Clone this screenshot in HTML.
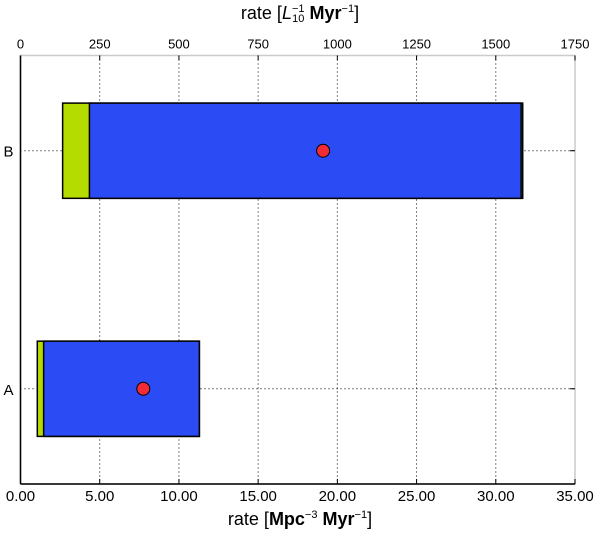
<!DOCTYPE html>
<html><head><meta charset="utf-8"><style>
html,body{margin:0;padding:0;background:#fff;}
svg{display:block;font-family:"Liberation Sans",sans-serif;}
</style></head><body>
<svg id="chart" width="600" height="534"></svg>
<script>
const categories = ["A","B"];
const greenStart = [1.06, 2.66];
const blueStart = [1.46, 4.35];
const blueEnd = [11.29, 31.6];
const greenEnd = [11.29, 31.7];
const pointValue = [7.75, 19.1];
const bottomTicks = [0,5,10,15,20,25,30,35];
const topTicks = [0,250,500,750,1000,1250,1500,1750];

const L=20.5,R=575,T=55.5,B=484;
const xMax=35, yMin=-0.4, yMax=1.4;
const x=v=>L+(v/xMax)*(R-L);
const xTop=v=>L+(v/1750)*(R-L);
const y=v=>T+(yMax-v)/(yMax-yMin)*(B-T);
const svg=document.getElementById('chart');
const NS='http://www.w3.org/2000/svg';
function mk(tag,attrs,parent){const e=document.createElementNS(NS,tag);for(const k in attrs)e.setAttribute(k,attrs[k]);(parent||svg).appendChild(e);return e;}

// frame background
let fr=mk('rect',{x:L,y:T,width:R-L,height:B-T,fill:'#fff',stroke:'#c8cccc','stroke-width':1.5});



// gridlines
bottomTicks.forEach(t=>{
  if(t===0||t===35)return;
  let g=mk('line',{x1:x(t),x2:x(t),y1:T,y2:B,stroke:'#000','stroke-width':1,'stroke-dasharray':'1,3'});
  
  
});
categories.forEach((c,i)=>{
  let g=mk('line',{x1:L,x2:R,y1:y(i),y2:y(i),stroke:'#000','stroke-width':1,'stroke-dasharray':'1,3'});
  
  
});

// bars
categories.forEach((c,i)=>{
  const y0=y(i+0.2), h=y(i-0.2)-y(i+0.2);
  let g=mk('rect',{x:x(greenStart[i]),y:y0,width:x(greenEnd[i])-x(greenStart[i]),height:h,fill:'#b5dc00',stroke:'#000','stroke-width':1.5});
  
  
  let b=mk('rect',{x:x(blueStart[i]),y:y0,width:x(blueEnd[i])-x(blueStart[i]),height:h,fill:'#2b4cf5',stroke:'#000','stroke-width':1.5});
  
  
  let p=mk('circle',{cx:x(pointValue[i]),cy:y(i),r:6.5,fill:'#f22b36',stroke:'#000','stroke-width':1});
  
  
});

// axes spines
let la=mk('line',{x1:L,x2:L,y1:T,y2:B,stroke:'#000','stroke-width':1.5});


let ba=mk('line',{x1:L,x2:R,y1:B,y2:B,stroke:'#000','stroke-width':1.5});



// bottom ticks
bottomTicks.forEach(t=>{
  let tk=mk('line',{x1:x(t),x2:x(t),y1:B,y2:B-5,stroke:'#000'});
  
  
  let tx=mk('text',{x:x(t),y:B+17,'text-anchor':'middle','font-size':15,fill:'#000'});
  tx.textContent=t.toFixed(2);
  
  
});
topTicks.forEach(t=>{
  let tk=mk('line',{x1:xTop(t),x2:xTop(t),y1:T,y2:T+5,stroke:'#000'});
  
  
  let tx=mk('text',{x:xTop(t),y:T-7,'text-anchor':'middle','font-size':13,fill:'#000'});
  tx.textContent=String(t);
  
  
});
categories.forEach((c,i)=>{
  let tk=mk('line',{x1:R,x2:R-5,y1:y(i),y2:y(i),stroke:'#000'});
  
  
  let tx=mk('text',{x:L-7,y:y(i)+6,'text-anchor':'end','font-size':15,fill:'#000'});
  tx.textContent=c;
  
  
});
</script>
<div style="position:absolute;left:0;top:509px;width:600px;text-align:center;font:18px 'Liberation Sans',sans-serif;">rate [<b>Mpc</b><sup style="font-size:11px">−3</sup> <b>Myr</b><sup style="font-size:11px">−1</sup>]</div>
<div style="position:absolute;left:0;top:3px;width:600px;text-align:center;font:18px 'Liberation Sans',sans-serif;">rate [<i>L</i><span style="display:inline-block;vertical-align:middle;line-height:10px;font-size:11px"><span style="display:block">−1</span><span style="display:block">10</span></span> <b>Myr</b><sup style="font-size:11px">−1</sup>]</div>
</body></html>
